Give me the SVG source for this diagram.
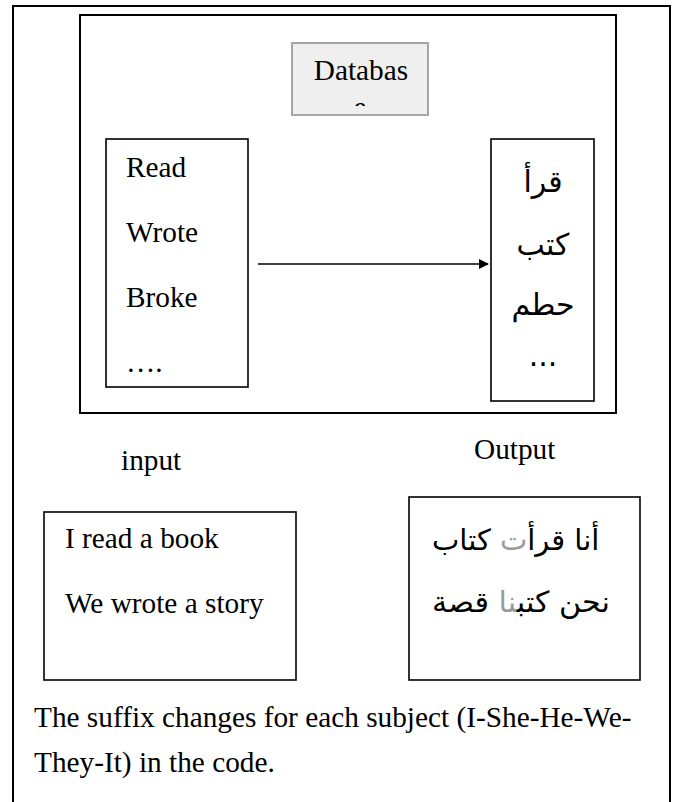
<svg xmlns="http://www.w3.org/2000/svg" width="675" height="802" viewBox="0 0 675 802">
  <style>
    .frame { fill: none; stroke: #000; stroke-width: 2; }
    .box { fill: #fff; stroke: #000; stroke-width: 1.6; }
    .db { fill: #efefef; stroke: #a6a6a6; stroke-width: 2; }
    .lat { font-family: "Liberation Serif", "Times New Roman", serif; font-size: 29.3px; fill: #000; }
    .ar { font-family: "DejaVu Sans", "Liberation Sans", sans-serif; font-size: 30px; fill: #000; }
    .ar2 { font-family: "DejaVu Sans", "Liberation Sans", sans-serif; font-size: 29px; fill: #000; }
    .soft { fill: #9a9a9a; }
    .conn { stroke: #000; stroke-width: 1.5; fill: none; }
  </style>
  <defs>
    <marker id="arrow" markerWidth="10" markerHeight="10" refX="9" refY="5" orient="auto" markerUnits="userSpaceOnUse">
      <path d="M0,0 L10,5 L0,10 z" fill="#000"/>
    </marker>
    <clipPath id="dbClip">
      <rect x="292" y="43" width="136" height="63"/>
    </clipPath>
  </defs>

  <rect width="675" height="802" fill="#fff"/>

  <!-- page border, open at the bottom -->
  <path class="frame" d="M13,802 V6 H670 V802"/>

  <!-- system frame -->
  <rect id="system" class="frame" x="80" y="15" width="536" height="398"/>

  <g id="database">
    <rect class="db" x="292" y="43" width="136" height="72"/>
    <g clip-path="url(#dbClip)">
      <text class="lat" x="361" y="80" text-anchor="middle">Databas</text>
      <text class="lat" x="360" y="117" text-anchor="middle">e</text>
    </g>
  </g>

  <g id="english-verbs">
    <rect class="box" x="106" y="139" width="142" height="248"/>
    <text class="lat" x="126" y="177">Read</text>
    <text class="lat" x="126" y="242">Wrote</text>
    <text class="lat" x="126" y="307">Broke</text>
    <text class="lat" x="126" y="372">….</text>
  </g>

  <g id="arabic-verbs">
    <rect class="box" x="491" y="139" width="103" height="262"/>
    <text class="ar" x="543" y="192" text-anchor="middle">قرأ</text>
    <text class="ar" x="543" y="255" text-anchor="middle">كتب</text>
    <text class="ar" x="543" y="315" text-anchor="middle">حطم</text>
    <text class="ar" x="543" y="366" text-anchor="middle">...</text>
  </g>

  <g id="connectors">
    <line class="conn" x1="258" y1="264" x2="488" y2="264" marker-end="url(#arrow)"/>
  </g>

  <g id="input-label">
    <text class="lat" x="121" y="470">input</text>
  </g>
  <g id="output-label">
    <text class="lat" x="474" y="459">Output</text>
  </g>

  <g id="english-sentences">
    <rect class="box" x="44" y="512" width="252" height="168"/>
    <text class="lat" x="65" y="548">I read a book</text>
    <text class="lat" x="65" y="613">We wrote a story</text>
  </g>

  <g id="arabic-sentences">
    <rect class="box" x="409" y="497" width="231" height="183"/>
    <text class="ar2" x="432" y="550">أنا قرأ<tspan class="soft">ت</tspan> كتاب</text>
    <text class="ar2" x="432" y="612" textLength="178" lengthAdjust="spacingAndGlyphs">نحن كتب<tspan class="soft">نا</tspan> قصة</text>
  </g>

  <g id="note">
    <text class="lat" x="34" y="727">The suffix changes for each subject (I-She-He-We-</text>
    <text class="lat" x="34" y="772">They-It) in the code.</text>
  </g>
</svg>
